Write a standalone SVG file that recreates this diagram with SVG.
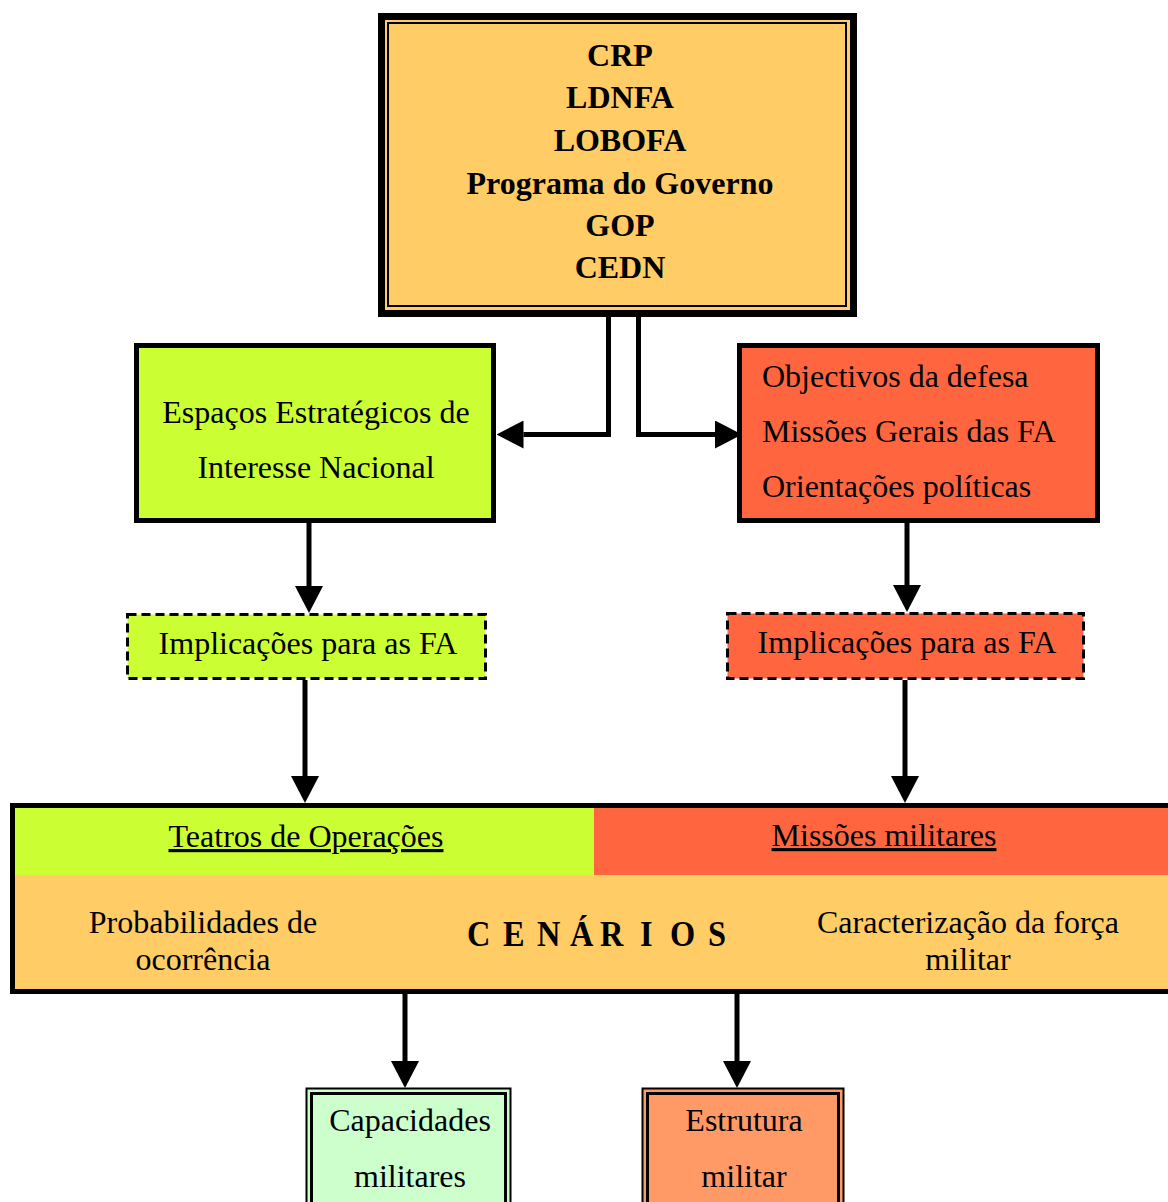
<svg xmlns="http://www.w3.org/2000/svg" width="1168" height="1202" viewBox="0 0 1168 1202">
<style>
text{font-family:"Liberation Serif","Times New Roman",serif;font-size:32px;fill:#000}
.b{font-weight:bold}
.c{text-anchor:middle}
.box{stroke:#000;stroke-width:5}
.dash{stroke:#000;stroke-width:3;stroke-dasharray:9 5}
.ln{fill:none;stroke:#000;stroke-width:5}
.u{text-decoration:underline}
</style>
<defs>
<marker id="ah" viewBox="0 0 27 28" refX="0" refY="14" markerWidth="27" markerHeight="28" markerUnits="userSpaceOnUse" orient="auto">
<path d="M0,0 L27,14 L0,28 Z" fill="#000"/>
</marker>
</defs>
<rect width="1168" height="1202" fill="#fff"/>

<g id="top">
<rect x="381.5" y="16.5" width="472" height="297" fill="#FFCC66" stroke="#000" stroke-width="7"/>
<rect x="388" y="23" width="458" height="283" fill="none" stroke="#000" stroke-width="2"/>
<text class="b c" x="620" y="66">CRP</text>
<text class="b c" x="620" y="108">LDNFA</text>
<text class="b c" x="620" y="151">LOBOFA</text>
<text class="b c" x="620" y="194">Programa do Governo</text>
<text class="b c" x="620" y="236">GOP</text>
<text class="b c" x="620" y="278">CEDN</text>
</g>

<g id="espacos">
<rect class="box" x="136.5" y="345.5" width="357" height="175" fill="#CCFF33"/>
<text class="c" x="316" y="423">Espaços Estratégicos de</text>
<text class="c" x="316" y="478">Interesse Nacional</text>
</g>

<g id="objectivos">
<rect class="box" x="739.5" y="345.5" width="358" height="175" fill="#FF6640"/>
<text x="762" y="387">Objectivos da defesa</text>
<text x="762" y="442">Missões Gerais das FA</text>
<text x="762" y="497">Orientações políticas</text>
</g>

<g id="impl-left">
<rect class="dash" x="127.5" y="614.5" width="358" height="64" fill="#CCFF33"/>
<text class="c" x="308" y="654">Implicações para as FA</text>
</g>

<g id="impl-right">
<rect class="dash" x="727.5" y="613.5" width="356" height="65" fill="#FF6640"/>
<text class="c" x="907" y="653">Implicações para as FA</text>
</g>

<g id="cenarios">
<rect x="15" y="808" width="579" height="67" fill="#CCFF33"/>
<rect x="594" y="808" width="580" height="67" fill="#FF6640"/>
<rect x="15" y="875" width="1160" height="114" fill="#FFCC66"/>
<rect x="12.5" y="805.5" width="1170" height="186" fill="none" stroke="#000" stroke-width="5"/>
<text class="c u" x="306" y="847">Teatros de Operações</text>
<text class="c u" x="884" y="846">Missões militares</text>
<text class="c" x="203" y="933">Probabilidades de</text>
<text class="c" x="203" y="970">ocorrência</text>
<text class="b" transform="matrix(0.9,0,0,1,0,0)" y="946" style="font-size:36px" x="518.9 544.4 558.9 583.3 596.7 622.2 633.3 660 666.7 694.4 711.1 726.7 744.4 773.3 786.7">C E N Á R I O S</text>
<text class="c" x="968" y="933">Caracterização da força</text>
<text class="c" x="968" y="970">militar</text>
</g>

<g id="capacidades">
<rect x="306.5" y="1088.5" width="204" height="130" fill="#CCFFCC" stroke="#000" stroke-width="2"/>
<rect x="311.5" y="1093.5" width="194" height="130" fill="none" stroke="#000" stroke-width="3"/>
<text class="c" x="410" y="1131">Capacidades</text>
<text class="c" x="410" y="1187">militares</text>
</g>

<g id="estrutura">
<rect x="642.5" y="1088.5" width="201" height="130" fill="#FF9966" stroke="#000" stroke-width="2"/>
<rect x="647.5" y="1093.5" width="191" height="130" fill="none" stroke="#000" stroke-width="3"/>
<text class="c" x="744" y="1131">Estrutura</text>
<text class="c" x="744" y="1187">militar</text>
</g>

<g id="connectors">
<path class="ln" d="M608.5,317 V434.5 H523.5" marker-end="url(#ah)"/>
<path class="ln" d="M638.5,317 V434.5 H715" marker-end="url(#ah)"/>
<path class="ln" d="M309,523 V586" marker-end="url(#ah)"/>
<path class="ln" d="M907,523 V585" marker-end="url(#ah)"/>
<path class="ln" d="M305,680 V776" marker-end="url(#ah)"/>
<path class="ln" d="M905,680 V776" marker-end="url(#ah)"/>
<path class="ln" d="M405,994 V1061" marker-end="url(#ah)"/>
<path class="ln" d="M737,994 V1061" marker-end="url(#ah)"/>
</g>
</svg>
